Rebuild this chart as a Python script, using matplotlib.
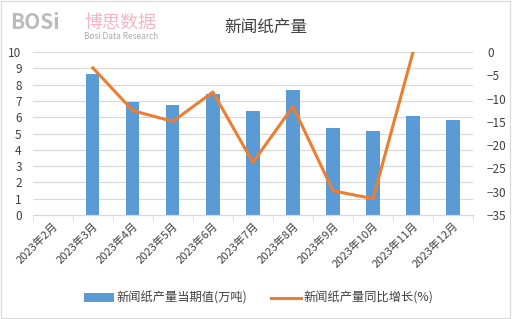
import numpy as np
import matplotlib.pyplot as plt
from matplotlib.patches import Rectangle

plt.rcParams['font.family'] = ['Noto Sans CJK SC', 'DejaVu Sans']

months = ['2023年2月', '2023年3月', '2023年4月', '2023年5月', '2023年6月', '2023年7月',
          '2023年8月', '2023年9月', '2023年10月', '2023年11月', '2023年12月']
output = [np.nan, 8.67, 6.95, 6.76, 7.42, 6.39, 7.68, 5.35, 5.16, 6.09, 5.83]
growth = [np.nan, -3.4, -12.6, -14.9, -8.6, -23.7, -11.7, -29.8, -31.5, 0.0, np.nan]

fig = plt.figure(figsize=(5.12, 3.19), dpi=100)
ax = fig.add_axes([0.064, 0.326, 0.86, 0.511])
ax2 = ax.twinx()

x = np.arange(len(months))
ax.bar(x, output, width=0.33, color='#5B9BD5', zorder=2, label='新闻纸产量当期值(万吨)')
ax2.plot(x, growth, color='#ED7D31', lw=2.2, zorder=3, label='新闻纸产量同比增长(%)')

ax.set_xlim(-0.5, len(months) - 0.5)
ax.set_ylim(0, 10)
ax.set_yticks(range(0, 11))
ax2.set_ylim(-35, 0)
ax2.set_yticks(range(-35, 1, 5))

ax.grid(axis='y', color='#D9D9D9', lw=0.8, zorder=0)
ax.set_axisbelow(True)
for a in (ax, ax2):
    for s in ['top', 'left', 'right']:
        a.spines[s].set_visible(False)
    a.spines['bottom'].set_color('#D9D9D9')
    a.tick_params(axis='y', length=0, labelsize=8.5, colors='#404040')

ax.set_xticks(x)
ax.set_xticklabels(months, rotation=45, ha='right', rotation_mode='anchor', fontsize=8, color='#404040')
ax.tick_params(axis='x', length=0, pad=4)
ax.set_xticks(np.arange(-0.5, len(months), 1), minor=True)
ax.tick_params(axis='x', which='minor', length=4, color='#D9D9D9')
ax.tick_params(axis='y', pad=8)
ax2.tick_params(axis='y', pad=10)

fig.text(0.52, 0.915, '新闻纸产量', ha='center', va='center', fontsize=12, color='#404040')

# watermark
fig.text(0.02, 0.93, 'BOSi', fontsize=15, fontweight='bold', color='#BBBBBB', va='center')
fig.text(0.165, 0.93, '博思数据', fontsize=13, color='#F4B6C2', va='center')
fig.text(0.165, 0.885, 'Bosi Data Research', fontsize=6, color='#AAAAAA', va='center')

h1, l1 = ax.get_legend_handles_labels()
h2, l2 = ax2.get_legend_handles_labels()
fig.legend(h1 + h2, l1 + l2, loc='center', bbox_to_anchor=(0.505, 0.065), ncol=2, frameon=False,
           fontsize=8.8, labelcolor='#404040', handlelength=2.4, columnspacing=2.0, handletextpad=0.2)

fig.patches.append(Rectangle((0.002, 0.003), 0.995, 0.994, transform=fig.transFigure,
                             fill=False, edgecolor='#D9D9D9', lw=0.8))

fig.savefig('out.png', dpi=100)
